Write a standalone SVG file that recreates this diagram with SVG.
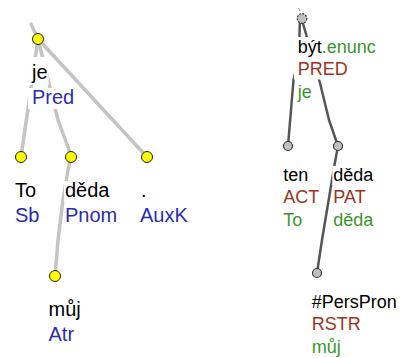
<svg xmlns="http://www.w3.org/2000/svg" width="404" height="358" viewBox="0 0 404 358">
<style>
text{font-family:"Liberation Sans",Arial,sans-serif}
.a{font-size:20px}
.b{font-size:18px}
.k{fill:#000}
.bl{fill:#2c2cb0}
.br{fill:#993322}
.gr{fill:#3a962a}
.bg{fill:#fff}
.la{fill:none;stroke:#c4c4c4;stroke-width:3.5;stroke-linejoin:round;stroke-linecap:round}
.ra{fill:none;stroke:#555;stroke-width:2.5;stroke-linejoin:round}
.yn{fill:#ffff00;stroke:#222;stroke-width:1}
.gn{fill:#c0c0c0;stroke:#333;stroke-width:1.2}
</style>
<g id="connectors">
<line class="la" x1="31" y1="24" x2="38" y2="39"/>
<line class="la" x1="38" y1="39" x2="21" y2="157"/>
<polyline class="la" points="38,39 58,120 68,147 71,157"/>
<line class="la" x1="38" y1="39" x2="147" y2="157"/>
<polyline class="la" points="71,157 68,170 63,200 58,240 55,276"/>
<line x1="298.5" y1="8" x2="300" y2="11" stroke="#999" stroke-width="1"/>
<polyline class="ra" points="300,20 298.6,58 293.5,80 288,146"/>
<polyline class="ra" points="302,20 320,83 329,120 338,146"/>
<polyline class="ra" points="338,146 335,162 322,240 317,273"/>
</g>
<g id="n-je">
<circle class="yn" cx="38" cy="39" r="5.5"/>
<rect class="bg" x="28" y="57" width="20.6" height="28"/>
<rect class="bg" x="28" y="88" width="47.2" height="21"/>
<text class="a k" x="32" y="79">je</text>
<text class="a bl" x="32" y="103.5">Pred</text>
</g>
<g id="n-To">
<circle class="yn" cx="21" cy="157" r="5.5"/>
<rect class="bg" x="14" y="181" width="25.3" height="21"/>
<rect class="bg" x="14" y="205.5" width="26.5" height="21"/>
<text class="a k" x="15" y="197">To</text>
<text class="a bl" x="15" y="221.5">Sb</text>
</g>
<g id="n-deda">
<circle class="yn" cx="71" cy="157" r="5.5"/>
<rect class="bg" x="64" y="181" width="46.5" height="21"/>
<rect class="bg" x="64" y="205.5" width="54.2" height="21"/>
<text class="a k" x="65" y="197">děda</text>
<text class="a bl" x="65" y="221.5">Pnom</text>
</g>
<g id="n-dot">
<circle class="yn" cx="147" cy="157" r="5.5"/>
<rect class="bg" x="139" y="205.5" width="49.8" height="21"/>
<text class="a k" x="141" y="197">.</text>
<text class="a bl" x="140" y="221.5">AuxK</text>
</g>
<g id="n-muj">
<circle class="yn" cx="55" cy="276" r="5.5"/>
<rect class="bg" x="47.5" y="300" width="34.2" height="21"/>
<rect class="bg" x="47.5" y="324.5" width="27.6" height="21"/>
<text class="a k" x="48.5" y="316">můj</text>
<text class="a bl" x="48.5" y="340.5">Atr</text>
</g>
<g id="t-byt">
<circle class="gn" cx="302" cy="18.5" r="4.8" stroke-width="1.6" stroke-dasharray="2 1.2"/>
<rect class="bg" x="294" y="37" width="83" height="20"/>
<rect class="bg" x="294" y="57" width="55" height="22.5"/>
<rect class="bg" x="296.5" y="83.5" width="16" height="19"/>
<text class="b" x="297.7" y="52.5"><tspan class="k">být</tspan><tspan class="gr">.enunc</tspan></text>
<text class="b br" x="297.7" y="75">PRED</text>
<text class="b gr" x="297.7" y="98">je</text>
</g>
<g id="t-ten">
<circle class="gn" cx="288" cy="146" r="4.5"/>
<rect class="bg" x="282.3" y="166" width="27" height="19"/>
<rect class="bg" x="282.3" y="188.5" width="38" height="19"/>
<rect class="bg" x="282.3" y="211.5" width="23" height="19"/>
<text class="b k" x="283.3" y="180.5">ten</text>
<text class="b br" x="283.3" y="203">ACT</text>
<text class="b gr" x="283.3" y="226">To</text>
</g>
<g id="t-deda">
<circle class="gn" cx="338" cy="146" r="4.5"/>
<rect class="bg" x="332.3" y="166" width="42" height="19"/>
<rect class="bg" x="332.3" y="188.5" width="37" height="19"/>
<rect class="bg" x="332.3" y="211.5" width="42" height="19"/>
<text class="b k" x="333.3" y="180.5">děda</text>
<text class="b br" x="333.3" y="203">PAT</text>
<text class="b gr" x="333.3" y="226">děda</text>
</g>
<g id="t-perspron">
<circle class="gn" cx="317" cy="273" r="4.5"/>
<rect class="bg" x="310.7" y="293" width="87" height="19"/>
<rect class="bg" x="310.7" y="315.5" width="51" height="19"/>
<rect class="bg" x="310.7" y="338.5" width="31" height="19"/>
<text class="b k" x="311.7" y="307.5">#PersPron</text>
<text class="b br" x="311.7" y="330">RSTR</text>
<text class="b gr" x="311.7" y="353">můj</text>
</g>
</svg>
